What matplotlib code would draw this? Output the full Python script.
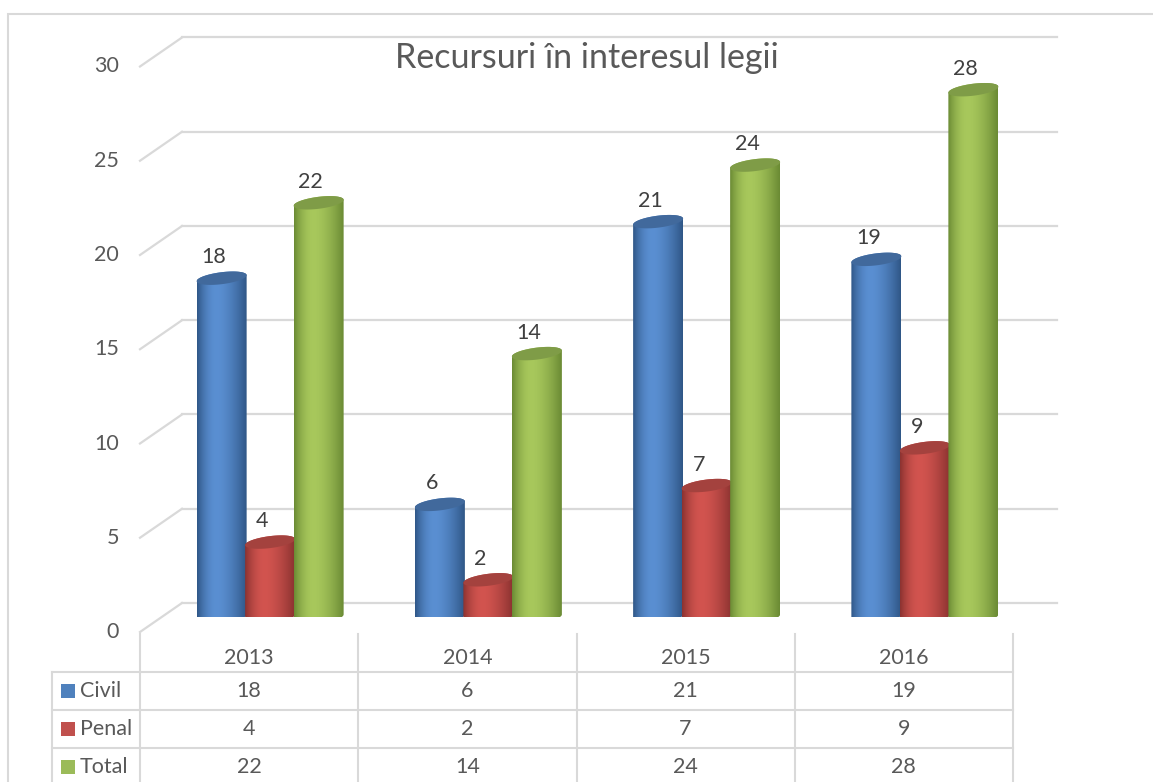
import matplotlib
matplotlib.use('Agg')
import matplotlib.pyplot as plt
import numpy as np
from matplotlib.patches import Polygon, Rectangle

plt.rcParams['font.family'] = ['Lato', 'DejaVu Sans']

title = 'Recursuri în interesul legii'
years = ['2013', '2014', '2015', '2016']
series = ['Civil', 'Penal', 'Total']
civil = [18, 6, 21, 19]
penal = [4, 2, 7, 9]
total = [22, 14, 24, 28]
values = [civil, penal, total]
yticks = [0, 5, 10, 15, 20, 25, 30]

# light, dark, cap colours per series
light = ['#5a8fd2', '#d2544f', '#a8c85c']
dark = ['#2f5686', '#8a3230', '#6a8a34']
caps = ['#41699c', '#a4423e', '#7f9c47']
swatch = ['#4f81bd', '#c0504d', '#9bbb59']

W, H = 1153, 782
text_col = '#595959'
grid_col = '#d9d9d9'
fs = 15.5

fig = plt.figure(figsize=(W / 100, H / 100), dpi=100)

# chart border
fig.patches.append(Rectangle((8 / W, -0.05), 1.1, 1 - 14 / H + 0.05, transform=fig.transFigure,
                             fill=False, edgecolor=grid_col, lw=1.5))

# plot area = middle depth plane of the 3d box
x0, x1 = 161, 1034
y0, y1 = 617.5, 52
ax = fig.add_axes([x0 / W, (H - y0) / H, (x1 - x0) / W, (y0 - y1) / H])
ax.set_xlim(-0.5, 3.5)
ax.set_ylim(0, 30)
ax.axis('off')

pxx = (x1 - x0) / 4.0
pxy = (y0 - y1) / 30.0
dx = 21 / pxx
dy = 14.5 / pxy

for v in yticks:
    ax.plot([-0.5 + dx, 3.5 + dx * 1.1], [v + dy, v + dy], color=grid_col, lw=1.6, clip_on=False, zorder=1)
    ax.plot([-0.5 - dx, -0.5 + dx], [v - dy, v + dy], color=grid_col, lw=1.6, clip_on=False, zorder=1)
    ax.text(-0.5 - dx - 21 / pxx, v - dy, str(v), ha='right', va='center', fontsize=fs,
            color=text_col, clip_on=False)

bw = 50 / pxx
step = 48.5 / pxx
eh = 12 / pxy
tilt = 3.0 / pxy
t = np.linspace(0, 2 * np.pi, 80)


def ellipse_pts(cx, cy):
    ex = cx + bw / 2 * np.cos(t)
    ey = cy + eh / 2 * np.sin(t) + tilt * np.cos(t)
    return np.column_stack([ex, ey])


def gradient(c_light, c_dark):
    u = np.linspace(0, 1, 200)
    f = np.where(u < 0.4, 1 - ((0.4 - u) / 0.4) ** 2, 1 - ((u - 0.4) / 0.6) ** 1.6)
    f = np.clip(f, 0, 1)
    l = np.array(matplotlib.colors.to_rgb(c_light))
    d = np.array(matplotlib.colors.to_rgb(c_dark))
    return (d[None, :] + (l - d)[None, :] * f[:, None])[None, :, :]


for s in range(3):
    for i in range(4):
        v = values[s][i]
        cx = i + (s - 1) * step
        z = 3 + s + i * 0.01
        # body outline: bottom half ellipse + sides + top half ellipse
        tb = np.linspace(np.pi, 2 * np.pi, 40)
        bx = cx + bw / 2 * np.cos(tb)
        by = eh / 2 * np.sin(tb) + tilt * np.cos(tb)
        tt = np.linspace(0, np.pi, 40)
        tx = cx + bw / 2 * np.cos(tt)
        ty = v + eh / 2 * np.sin(tt) + tilt * np.cos(tt)
        body = np.vstack([np.column_stack([bx, by]), np.column_stack([tx, ty])])
        poly = Polygon(body, closed=True, facecolor='none', edgecolor='none')
        ax.add_patch(poly)
        im = ax.imshow(gradient(light[s], dark[s]), extent=[cx - bw / 2, cx + bw / 2, -eh, v + eh],
                       aspect='auto', zorder=z, interpolation='bilinear')
        im.set_clip_path(poly)
        cap = Polygon(ellipse_pts(cx, v), closed=True, facecolor=caps[s], edgecolor='none',
                      zorder=z + 0.001, clip_on=False)
        ax.add_patch(cap)
        ax.text(cx - 8 / pxx, v + 21 / pxy, str(v), ha='center', va='center', fontsize=fs,
                color='#404040', zorder=10, clip_on=False)

ax.set_xlim(-0.5, 3.5)
ax.set_ylim(0, 30)

fig.text(587 / W, 1 - 58 / H, title, ha='center', va='center', fontsize=24.5, color=text_col)

# data table in the front plane
tx0, tx1 = 52, 1013
ty0, ty1 = 634, 786
lab_w = 88 / 218.25
tab = fig.add_axes([tx0 / W, (H - ty1) / H, (tx1 - tx0) / W, (ty1 - ty0) / H])
tab.set_xlim(-lab_w, 4)
tab.set_ylim(4, 0)
tab.axis('off')
for c in range(5):
    tab.plot([c, c], [0, 4.2], color=grid_col, lw=1.5, clip_on=False)
tab.plot([-lab_w, -lab_w], [1, 4.2], color=grid_col, lw=1.5, clip_on=False)
for r in range(1, 4):
    tab.plot([-lab_w, 4], [r, r], color=grid_col, lw=1.5, clip_on=False)
for c, yr in enumerate(years):
    tab.text(c + 0.5, 0.63, yr, ha='center', va='center', fontsize=fs, color=text_col)
for s, name in enumerate(series):
    tab.add_patch(Rectangle((-lab_w + 9 / 218.25, s + 1.5 - 7 / 38), 14 / 218.25, 14 / 38,
                            facecolor=swatch[s], edgecolor='none'))
    tab.text(-lab_w + 28 / 218.25, s + 1.5, name, ha='left', va='center', fontsize=fs, color=text_col)
    for c in range(4):
        tab.text(c + 0.5, s + 1.5, str(values[s][c]), ha='center', va='center', fontsize=fs,
                 color=text_col)

fig.savefig('out.png', dpi=100)
